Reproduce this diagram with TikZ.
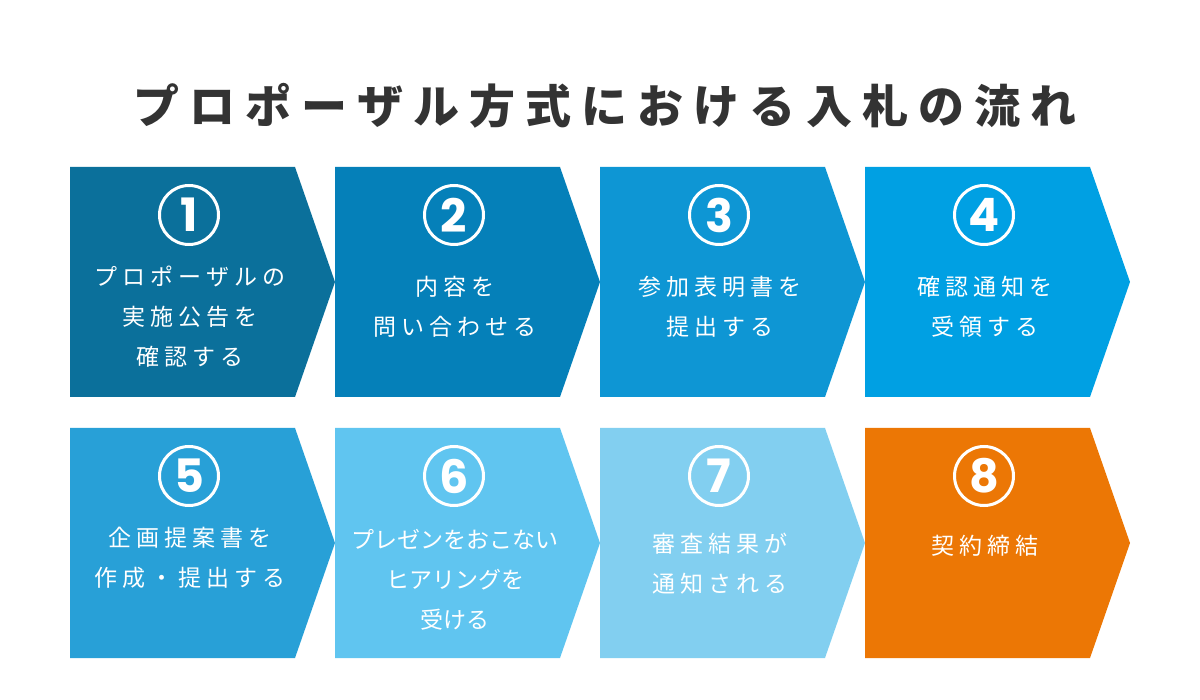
\documentclass[tikz,border=0pt]{standalone}
\usepackage{fontspec}
\setmainfont{Noto Sans CJK JP}
\newfontfamily\jpwide[LetterSpace=22]{Noto Sans CJK JP}
\newfontfamily\jpplain{Noto Sans CJK JP}
\newfontfamily\numfont{Poppins}
\usetikzlibrary{positioning}
\definecolor{titlegray}{HTML}{333333}
\definecolor{c1}{HTML}{0B709B}
\definecolor{c2}{HTML}{0580B9}
\definecolor{c3}{HTML}{0E96D4}
\definecolor{c4}{HTML}{00A0E3}
\definecolor{c5}{HTML}{28A0D7}
\definecolor{c6}{HTML}{60C5F0}
\definecolor{c7}{HTML}{82CFF0}
\definecolor{c8}{HTML}{EC7705}

\begin{document}
\begin{tikzpicture}[x=1pt, y=-1pt,
  titletext/.style={text=titlegray, font=\jpwide\bfseries\fontsize{46}{52}\selectfont, inner sep=0pt},
  numring/.style={circle, draw=white, line width=3pt, minimum size=59pt, inner sep=0pt,
    text=white, font=\numfont\bfseries\fontsize{46}{46}\selectfont},
  boxtext/.style={text=white, align=center, anchor=base, inner sep=0pt}]
  \useasboundingbox (0,0) rectangle (1200,700);
  \node[titletext] (title) at (605,106) {プロポーザル方式における入札の流れ};
  % the eight steps (\ty = baseline of the last line)
  \foreach \i/\x/\y/\col/\ty/\fnt/\txt in {
      1/70/167/c1/366/\jpwide/{プロポーザルの\\実施公告を\\確認する},
      2/335/167/c2/336/\jpwide/{内容を\\問い合わせる},
      3/600/167/c3/336/\jpwide/{参加表明書を\\提出する},
      4/865/167/c4/336/\jpwide/{確認通知を\\受領する},
      5/70/428/c5/586/\jpwide/{企画提案書を\\作成・提出する},
      6/335/428/c6/628/\jpplain/{プレゼンをおこない\\ヒアリングを\\受ける},
      7/600/428/c7/592/\jpwide/{審査結果が\\通知される},
      8/865/428/c8/554/\jpwide/{契約締結}} {
    \fill[\col] (\x,\y) -- ++(225,0) -- ++(40,115) -- ++(-40,115) -- ++(-225,0) -- cycle;
    \node[numring] (n\i) at (\x+119,\y+48) {\i};
    \node[boxtext, font=\fnt\fontsize{23}{40}\selectfont] (t\i) at (\x+120,\ty) {\txt};
  }
\end{tikzpicture}
\end{document}
